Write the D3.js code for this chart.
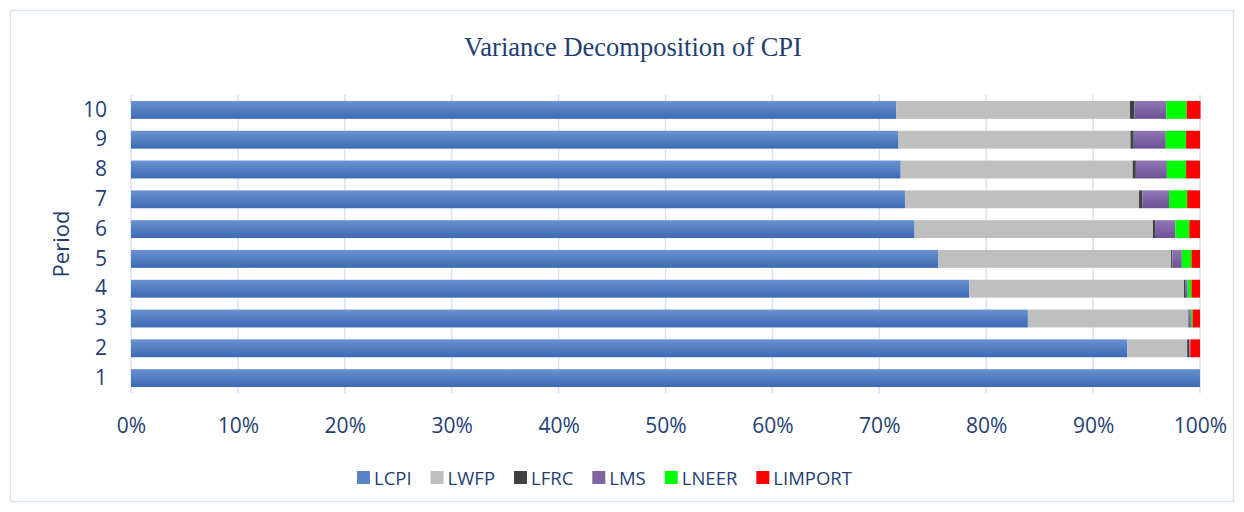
<!DOCTYPE html>
<html>
<head>
<meta charset="utf-8">
<title>Variance Decomposition of CPI</title>
<script src="https://cdnjs.cloudflare.com/ajax/libs/d3/7.8.5/d3.min.js"></script>
<style>
    body { margin: 0; background: #fff; }
    svg { display: block; }
    text { fill: #1f3f73; font-family: "Open Sans", sans-serif; }
</style>
</head>
<body>
<div id="chart"></div>
<script>
    var periods = ["1", "2", "3", "4", "5", "6", "7", "8", "9", "10"];
    var seriesNames = ["LCPI", "LWFP", "LFRC", "LMS", "LNEER", "LIMPORT"];

    // % of forecast error variance, period 1..10
    var lcpi    = [100, 93.2, 83.9, 78.4, 75.5, 73.3, 72.4, 72.0, 71.8, 71.6];
    var lwfp    = [0,   5.6,  15.0, 20.1, 21.8, 22.3, 21.9, 21.7, 21.7, 21.85];
    var lfrc    = [0,   0.2,  0.05, 0.1,  0.1,  0.2,  0.3,  0.3,  0.3,  0.4];
    var lms     = [0,   0.1,  0.2,  0.25, 0.9,  1.9,  2.5,  2.9,  3.0,  3.0];
    var lneer   = [0,   0.0,  0.15, 0.35, 0.9,  1.3,  1.7,  1.8,  1.9,  1.9];
    var limport = [0,   0.9,  0.7,  0.8,  0.8,  1.0,  1.2,  1.3,  1.3,  1.3];

    var xTicks = [0, 10, 20, 30, 40, 50, 60, 70, 80, 90, 100];

    var W = 1244, H = 512;
    var plotLeft = 131, plotRight = 1200, plotTop = 95, plotBottom = 393;

    var svg = d3.select("#chart").append("svg").attr("width", W).attr("height", H);
    var defs = svg.append("defs");

    function grad(id, c1, c2) {
        var g = defs.append("linearGradient").attr("id", id)
            .attr("x1", 0).attr("y1", 0).attr("x2", 0).attr("y2", 1);
        g.append("stop").attr("offset", "0%").attr("stop-color", c1);
        g.append("stop").attr("offset", "100%").attr("stop-color", c2);
    }
    grad("gCPI", "#6b93d3", "#3b69b3");
    grad("gMS", "#9077b4", "#6c5196");

    var fills = {
        LCPI: "url(#gCPI)", LWFP: "#bfbfbf", LFRC: "#404040",
        LMS: "url(#gMS)", LNEER: "#00ff00", LIMPORT: "#ff0000"
    };
    var swatch = {
        LCPI: "#5a82c6", LWFP: "#bfbfbf", LFRC: "#404040",
        LMS: "#8064a2", LNEER: "#00ff00", LIMPORT: "#ff0000"
    };

    // outer frame
    svg.append("rect")
        .attr("x", 10.5).attr("y", 10.5)
        .attr("width", 1223).attr("height", 491)
        .attr("fill", "none").attr("stroke", "#d9e2f3").attr("stroke-width", 1.5);

    var x = d3.scaleLinear().domain([0, 100]).range([plotLeft, plotRight]);
    var y = d3.scaleBand().domain(periods.slice().reverse()).range([plotTop, plotBottom])
        .paddingInner(0.4).paddingOuter(0.2);

    // gridlines
    svg.append("g").selectAll("line").data(xTicks).join("line")
        .attr("x1", function (d) { return x(d); })
        .attr("x2", function (d) { return x(d); })
        .attr("y1", plotTop).attr("y2", plotBottom)
        .attr("stroke", "#d9e2f3").attr("stroke-width", 1.5);

    var table = periods.map(function (p, i) {
        return { period: p, LCPI: lcpi[i], LWFP: lwfp[i], LFRC: lfrc[i], LMS: lms[i], LNEER: lneer[i], LIMPORT: limport[i] };
    });
    var stacked = d3.stack().keys(seriesNames)(table);

    svg.append("g").selectAll("g").data(stacked).join("g")
        .attr("fill", function (s) { return fills[s.key]; })
        .selectAll("rect").data(function (s) { return s; }).join("rect")
        .attr("x", function (d) { return x(d[0]); })
        .attr("y", function (d) { return y(d.data.period); })
        .attr("width", function (d) { return Math.max(0, x(d[1]) - x(d[0])); })
        .attr("height", y.bandwidth());

    // axes
    var xAxis = svg.append("g")
        .attr("transform", "translate(0," + plotBottom + ")")
        .call(d3.axisBottom(x).tickValues(xTicks).tickSize(0).tickPadding(25)
            .tickFormat(function (d) { return d + "%"; }));
    xAxis.select(".domain").remove();
    xAxis.selectAll("text").style("font-size", "21px").attr("fill", "#1f3f73");

    var yAxis = svg.append("g")
        .attr("transform", "translate(" + plotLeft + ",0)")
        .call(d3.axisLeft(y).tickSize(0).tickPadding(24));
    yAxis.select(".domain").remove();
    yAxis.selectAll("text").style("font-size", "21px").attr("fill", "#1f3f73");

    svg.append("text")
        .attr("transform", "translate(69," + ((plotTop + plotBottom) / 2) + ") rotate(-90)")
        .attr("text-anchor", "middle")
        .style("font-size", "22px")
        .text("Period");

    svg.append("text")
        .attr("x", 633).attr("y", 56)
        .attr("text-anchor", "middle")
        .style("font-family", "'Liberation Serif', 'Times New Roman', serif")
        .style("font-size", "26.5px")
        .text("Variance Decomposition of CPI");

    // legend
    var legend = svg.append("g").attr("transform", "translate(357,471)");
    var lx = 0;
    seriesNames.forEach(function (name) {
        var item = legend.append("g").attr("transform", "translate(" + lx + ",0)");
        item.append("rect").attr("width", 13).attr("height", 13).attr("fill", swatch[name]);
        var t = item.append("text").attr("x", 17).attr("y", 13.5)
            .style("font-size", "18.5px").text(name);
        lx += 17 + t.node().getComputedTextLength() + 19;
    });
</script>
</body>
</html>
